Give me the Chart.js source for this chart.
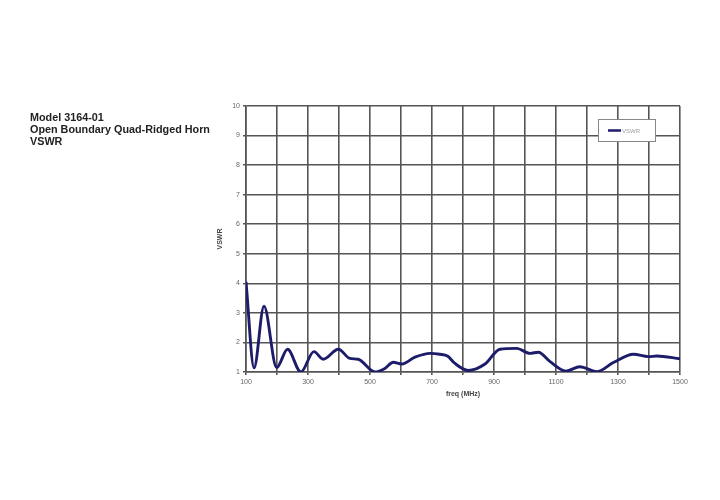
<!DOCTYPE html>
<html>
<head>
<meta charset="utf-8">
<script src="https://cdn.jsdelivr.net/npm/chart.js@4"></script>
<style>
  html, body { margin: 0; padding: 0; background: #fff; }
  #wrap { position: relative; width: 720px; height: 500px; }
  #titre {
    position: absolute; left: 30px; top: 111px;
    font: bold 10.8px "Liberation Sans", Arial, sans-serif;
    line-height: 12px; color: #222;
  }
  canvas { position: absolute; left: 0; top: 0; }
</style>
</head>
<body>
<div id="wrap">
  <canvas id="grafico" width="720" height="500"></canvas>
  <div id="titre">Model 3164-01<br>Open Boundary Quad-Ridged Horn<br>VSWR</div>
</div>
<script>
// Datos (frecuencia en MHz, VSWR)
const freq = [100, 126, 158, 199, 234, 277, 319, 349, 398, 435, 462, 516, 548, 575, 602, 645, 694, 725, 750, 774, 817, 871, 919, 973, 1016, 1043, 1081, 1132, 1177, 1231, 1285, 1350, 1398, 1425, 1500];
const vswr = [4.05, 1.14, 3.23, 1.15, 1.77, 1.0, 1.69, 1.43, 1.77, 1.46, 1.43, 1.0, 1.12, 1.33, 1.27, 1.5, 1.63, 1.6, 1.54, 1.29, 1.05, 1.27, 1.77, 1.8, 1.63, 1.67, 1.35, 1.03, 1.18, 1.01, 1.32, 1.6, 1.52, 1.54, 1.45];
const serie = 'VSWR';
const ejeX = 'freq (MHz)';
const ejeY = 'VSWR';

const puntos = freq.map((f, i) => ({ x: f, y: vswr[i] }));
const gris = '#555';
const fuenteTicks = { family: '"Liberation Sans", Arial, sans-serif', size: 7 };

// Leyenda dibujada a mano dentro del área del gráfico
const leyenda = {
  id: 'leyenda',
  afterDraw(chart) {
    const ctx = chart.ctx;
    ctx.save();
    ctx.fillStyle = '#fff';
    ctx.strokeStyle = '#888';
    ctx.lineWidth = 1;
    ctx.fillRect(598, 119, 57, 22);
    ctx.strokeRect(598.5, 119.5, 57, 22);
    ctx.strokeStyle = '#1c1c6b';
    ctx.lineWidth = 2.5;
    ctx.beginPath();
    ctx.moveTo(608, 130.5);
    ctx.lineTo(621, 130.5);
    ctx.stroke();
    ctx.fillStyle = '#999';
    ctx.font = '6px "Liberation Sans", Arial, sans-serif';
    ctx.textBaseline = 'middle';
    ctx.fillText(chart.data.datasets[0].label, 622, 131);
    ctx.restore();
  }
};

new Chart(document.getElementById('grafico').getContext('2d'), {
  type: 'line',
  data: {
    datasets: [{
      label: serie,
      data: puntos,
      borderColor: '#1c1c6b',
      borderWidth: 2.9,
      pointRadius: 0,
      fill: false,
      cubicInterpolationMode: 'monotone'
    }]
  },
  options: {
    responsive: false,
    animation: false,
    layout: { padding: { left: 216, right: 40, top: 106, bottom: 100 } },
    plugins: { legend: { display: false }, tooltip: { enabled: false } },
    scales: {
      x: {
        type: 'linear',
        min: 100, max: 1500,
        afterFit: s => { s.height = 28; },
        ticks: {
          stepSize: 100,
          autoSkip: false,
          maxRotation: 0,
          padding: 3,
          color: '#666',
          font: fuenteTicks,
          callback: v => ((v - 100) % 200 === 0 ? v : '')
        },
        grid: { color: gris, lineWidth: 1.6, tickLength: 3 },
        border: { color: gris, width: 1.6 },
        title: { display: true, text: ejeX, color: '#444', font: { family: '"Liberation Sans", Arial, sans-serif', size: 7, weight: 'bold' }, padding: { top: 0, bottom: 2 } }
      },
      y: {
        min: 1, max: 10,
        afterFit: s => { s.width = 30; },
        ticks: { stepSize: 1, padding: 3, color: '#666', font: fuenteTicks },
        grid: { color: gris, lineWidth: 1.6, tickLength: 3 },
        border: { color: gris, width: 1.6 },
        title: { display: true, text: ejeY, color: '#444', font: { family: '"Liberation Sans", Arial, sans-serif', size: 7, weight: 'bold' }, padding: 0 }
      }
    }
  },
  plugins: [leyenda]
});
</script>
</body>
</html>
